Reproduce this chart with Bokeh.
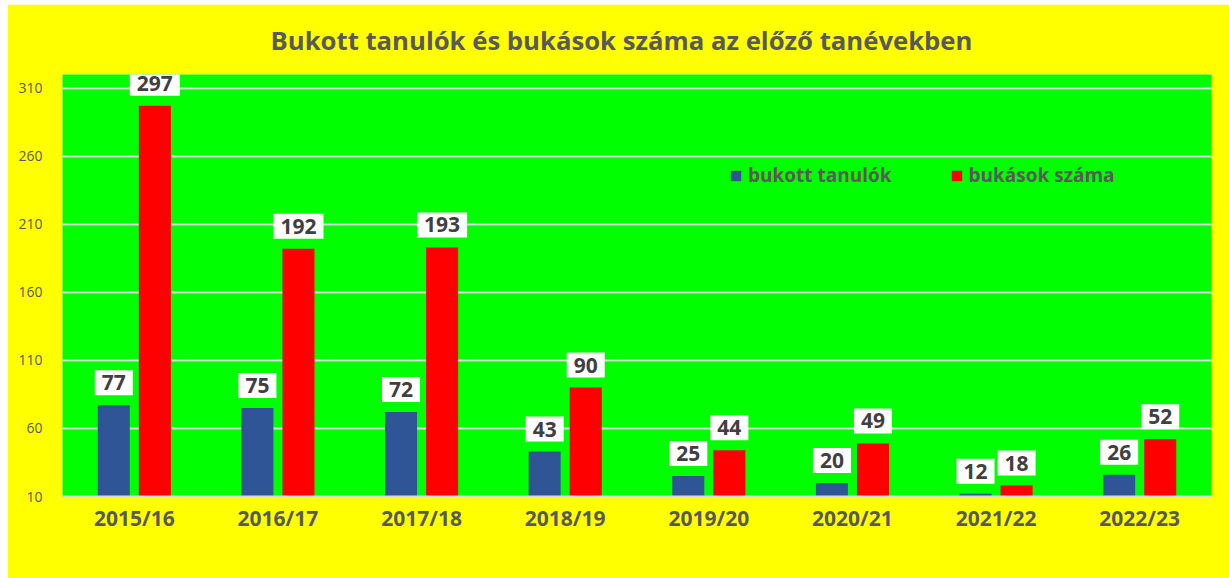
from bokeh.plotting import figure
from bokeh.models import ColumnDataSource, FactorRange, FixedTicker, Legend, LegendItem, Range1d, Title
from bokeh.transform import dodge
from bokeh.core.properties import value
from bokeh.embed import file_html
from bokeh.resources import INLINE

years = ["2015/16", "2016/17", "2017/18", "2018/19", "2019/20", "2020/21", "2021/22", "2022/23"]
bukott_tanulok = [77, 75, 72, 43, 25, 20, 12, 26]
bukasok_szama = [297, 192, 193, 90, 44, 49, 18, 52]
y_ticks = [10, 60, 110, 160, 210, 260, 310]
title_text = "Bukott tanulók és bukások száma az előző tanévekben"
series_names = ["bukott tanulók", "bukások száma"]

FONT = "Open Sans"
GRAY = "#595959"
BLUE = "#2F5597"
RED = "#FF0000"
Y_MIN = 10

src = ColumnDataSource(dict(
    year=years,
    blue=bukott_tanulok,
    red=bukasok_szama,
    blue_s=[str(v) for v in bukott_tanulok],
    red_s=[str(v) for v in bukasok_szama],
))

p = figure(width=1222, height=574, x_range=FactorRange(*years), y_range=Range1d(Y_MIN, 320),
           output_backend="svg", toolbar_location=None,
           min_border_left=55, min_border_right=18, min_border_top=70, min_border_bottom=82)
p.margin = (4, 0, 0, 7)

p.background_fill_color = "#00FF00"
p.border_fill_color = "#FFFF00"
p.outline_line_color = None

p.title = Title(text=title_text, align="left", offset=208, standoff=33,
                text_font=FONT, text_font_size="25.7px",
                text_font_style="bold", text_color=GRAY)

off = 0.143
bw = 0.223
rb = p.vbar(x=dodge("year", -off, range=p.x_range), top="blue", bottom=Y_MIN, width=bw,
            source=src, fill_color=BLUE, line_color=None)
rr = p.vbar(x=dodge("year", off, range=p.x_range), top="red", bottom=Y_MIN, width=bw,
            source=src, fill_color=RED, line_color=None)

for col, sgn in (("blue", -1), ("red", 1)):
    p.text(x=dodge("year", sgn * off, range=p.x_range), y=col, text=col + "_s", source=src,
           text_align="center", text_baseline="bottom", y_offset=-10,
           text_font=value(FONT), text_font_size="21px", text_font_style="bold",
           text_color="#404040", background_fill_color="white",
           padding=dict(left=7, right=7, top=5, bottom=5))

p.yaxis.ticker = FixedTicker(ticks=y_ticks)
p.yaxis.axis_line_color = None
p.yaxis.major_tick_line_color = None
p.yaxis.minor_tick_line_color = None
p.yaxis.major_label_text_font = FONT
p.yaxis.major_label_text_font_size = "14px"
p.yaxis.major_label_text_color = GRAY
p.yaxis.major_label_standoff = 14

p.xaxis.axis_line_color = "#D9D9D9"
p.xaxis.axis_line_width = 2
p.xaxis.major_tick_line_color = None
p.xaxis.minor_tick_line_color = None
p.xaxis.major_label_text_font = FONT
p.xaxis.major_label_text_font_size = "21px"
p.xaxis.major_label_text_font_style = "bold"
p.xaxis.major_label_text_color = GRAY
p.xaxis.major_label_standoff = 1

p.xgrid.grid_line_color = None
p.ygrid.grid_line_color = "#D9D9D9"
p.ygrid.grid_line_width = 2

legend = Legend(items=[LegendItem(label=series_names[0], renderers=[rb]),
                       LegendItem(label=series_names[1], renderers=[rr])],
                location=(667, 308), orientation="horizontal",
                background_fill_alpha=0, border_line_color=None,
                glyph_width=13, glyph_height=13, label_standoff=6, spacing=58,
                padding=0, margin=0,
                label_text_font=FONT, label_text_font_size="19px",
                label_text_font_style="bold", label_text_color=GRAY)
p.add_layout(legend, "center")

open("out.html", "w").write(file_html(p, INLINE))
